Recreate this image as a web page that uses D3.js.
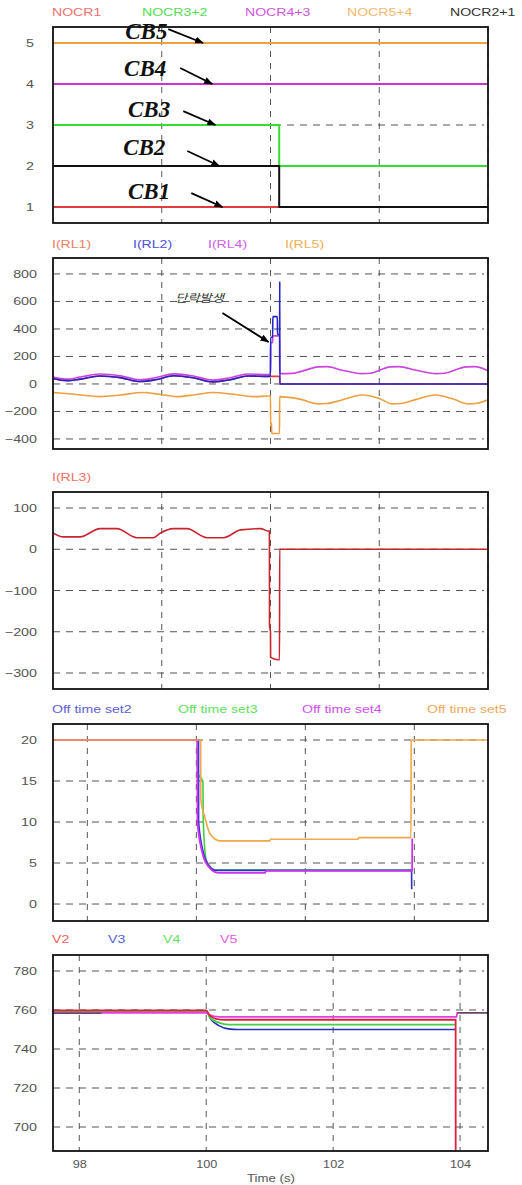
<!DOCTYPE html>
<html><head><meta charset="utf-8">
<script src="https://cdn.jsdelivr.net/npm/d3@7"></script>
<style>body{margin:0;background:#fff}svg{display:block}</style>
</head><body>
<script>
// ---------------- DATA ----------------
// Panel 1 : breaker states (x in panel units 0..4)
const legendP1 = ["NOCR1","NOCR3+2","NOCR4+3","NOCR5+4","NOCR2+1"];
const ticksP1 = [1,2,3,4,5];
const nocr1  = [[0,1],[2.08,1]];
const nocr32 = [[0,3],[2.08,3],[2.08,2],[4,2]];
const nocr43 = [[0,4],[4,4]];
const nocr54 = [[0,5],[4,5]];
const nocr21 = [[0,2],[2.08,2],[2.08,1],[4,1]];
const cbLabels = ["CB5","CB4","CB3","CB2","CB1"];

// Panel 2 : relay currents
const legendP2 = ["I(RL1)","I(RL2)","I(RL4)","I(RL5)"];
const ticksP2 = [-400,-200,0,200,400,600,800];
const rl1 = [[0,40],[0.13,24],[0.25,35],[0.43,58],[0.62,46],[0.8,18],[0.94,30],[1.11,60],[1.29,45],[1.47,15],[1.63,30],[1.79,58],[1.98,55],[2.0,55],[2.084,55],[2.085,0],[4,0]];
const rl2 = [[0,40],[0.13,24],[0.25,35],[0.43,58],[0.62,46],[0.8,18],[0.94,30],[1.11,60],[1.29,45],[1.47,15],[1.63,30],[1.79,58],[1.98,55],[2.0,55],[2.001,340],[2.02,340],[2.021,490],[2.063,490],[2.064,360],[2.084,360],[2.085,745],[2.086,0],[4,0]];
const rl4 = [[0,50],[0.13,35],[0.25,50],[0.43,72],[0.62,60],[0.8,30],[0.94,45],[1.11,73],[1.29,58],[1.47,28],[1.63,45],[1.79,72],[1.98,68],[2.0,68],[2.001,300],[2.02,300],[2.021,350],[2.083,350],[2.084,75],[2.2,77],[2.44,124],[2.52,126],[2.66,100],[2.84,75],[2.92,78],[3.1,124],[3.18,126],[3.34,100],[3.52,75],[3.6,78],[3.8,124],[3.88,126],[4.0,95]];
const rl5 = [[0,-62],[0.2,-75],[0.43,-92],[0.62,-80],[0.83,-62],[0.98,-75],[1.14,-92],[1.31,-78],[1.47,-62],[1.66,-75],[1.84,-92],[1.99,-88],[2.0,-88],[2.001,-300],[2.01,-285],[2.011,-360],[2.083,-360],[2.084,-92],[2.28,-112],[2.44,-145],[2.52,-142],[2.65,-118],[2.84,-80],[3.0,-105],[3.12,-145],[3.2,-142],[3.34,-112],[3.52,-80],[3.68,-110],[3.82,-145],[3.9,-140],[4.0,-115]];
const faultLabel = "단락발생";

// Panel 3 : I(RL3)
const legendP3 = ["I(RL3)"];
const ticksP3 = [-300,-200,-100,0,100];
const rl3 = [[0,39],[0.095,30],[0.249,30],[0.433,50],[0.587,50],[0.771,28],[0.924,28],[0.986,39],[1.109,50],[1.232,50],[1.416,28],[1.57,28],[1.724,47],[1.908,50],[1.984,44],[1.99,44],[1.991,-185],[2.0,-200],[2.001,-262],[2.075,-268],[2.083,-268],[2.084,0],[4,0]];

// Panel 4 : off time settings
const legendP4 = ["Off time set2","Off time set3","Off time set4","Off time set5"];
const ticksP4 = [0,5,10,15,20];
const set2 = [[0.685,20],[2.02,20],[2.021,10],[2.07,6],[2.12,4.6],[2.175,4.1],[3.975,4.1],[3.976,1.8]];
const set3 = [[0.685,20],[2.009,20],[2.01,16],[2.06,15],[2.064,10],[2.09,5.4],[2.124,4.6],[2.17,4.15],[3.975,4.15]];
const set4 = [[0.685,20],[2.009,20],[2.01,10],[2.064,5.8],[2.11,4.6],[2.156,4.0],[2.2,3.8],[2.63,3.8],[2.64,4.05],[3.98,4.05],[3.981,8.0]];
const set5 = [[0.685,20],[2.04,20],[2.041,12.7],[2.078,10.6],[2.124,8.6],[2.216,7.7],[2.675,7.7],[2.68,7.9],[3.483,7.9],[3.49,8.1],[3.97,8.1],[3.971,20],[4.676,20]];

// Panel 5 : voltages vs time (s)
const legendP5 = ["V2","V3","V4","V5"];
const ticksP5 = [700,720,740,760,780];
const timeTicks = [98,100,102,104];
const v2 = [[97.586,759.8],[100.0,759.8],[100.05,757.5],[100.15,755.5],[100.3,755],[103.93,755],[103.931,680]];
const v3 = [[97.586,759.3],[100.0,759.3],[100.08,755],[100.2,752],[100.35,750.3],[100.5,750],[103.93,750]];
const v4 = [[97.586,759.3],[100.0,759.3],[100.06,756],[100.2,753.5],[100.35,752.5],[103.93,752.5]];
const v5 = [[97.586,758.6],[100.0,758.6],[100.05,757.5],[100.2,756.5],[103.95,756.5],[103.951,758.5],[104.44,758.5]];
const v1 = [[97.586,758.3],[98.35,758.3],[98.36,null],[103.95,null],[103.96,758.6],[104.44,758.6]];

// ---------------- DRAWING ----------------
const W = 522, H = 1185, X0 = 53, X1 = 488;
const SANS = "'Liberation Sans', Arial, sans-serif";
const svg = d3.select("body").append("svg").attr("width", W).attr("height", H);
const defs = svg.append("defs");
defs.append("marker").attr("id","arr").attr("viewBox","0 0 10 10").attr("refX",9).attr("refY",5)
  .attr("markerUnits","userSpaceOnUse").attr("markerWidth",9).attr("markerHeight",9).attr("orient","auto")
  .append("path").attr("d","M0,1.2L10,5L0,8.8z").attr("fill","#000");

function stretch(sel, f){
  sel.each(function(){
    const L = this.getComputedTextLength();
    d3.select(this).attr("textLength", L*f).attr("lengthAdjust","spacingAndGlyphs");
  });
}

function drawPanel(cfg){
  const g = svg.append("g");
  const x = d3.scaleLinear().domain(cfg.xDomain).range([X0, X1]);
  const y = d3.scaleLinear().domain(cfg.yDomain).range([cfg.bottom, cfg.top]);
  const cid = "clip" + cfg.id;
  defs.append("clipPath").attr("id", cid).append("rect")
    .attr("x", X0).attr("y", cfg.top).attr("width", X1 - X0).attr("height", cfg.bottom - cfg.top);

  // grid
  const grid = g.append("g").attr("stroke","#555").attr("stroke-width",1).attr("fill","none");
  grid.selectAll(".hg").data(cfg.yTicks).join("line")
    .attr("x1", X0).attr("x2", X1 - 4).attr("y1", d => y(d)).attr("y2", d => y(d))
    .attr("stroke-dasharray","7,6");
  grid.selectAll(".vg").data(cfg.xGrid).join("line")
    .attr("x1", d => x(d)).attr("x2", d => x(d)).attr("y1", cfg.top).attr("y2", cfg.bottom)
    .attr("stroke-dasharray","6,6");

  // y axis labels
  const ya = g.append("g").attr("transform", `translate(${cfg.labelX},0)`)
    .call(d3.axisLeft(y).tickValues(cfg.yTicks).tickFormat(d3.format("d")).tickSize(0).tickPadding(0));
  ya.select(".domain").remove();
  ya.selectAll("text").attr("font-family", SANS).attr("font-size", 11).attr("fill", "#555");
  stretch(ya.selectAll("text"), 1.3);

  // legend
  const lg = g.append("g");
  lg.selectAll("text").data(cfg.legend).join("text")
    .attr("x", (d,i) => cfg.legendX[i]).attr("y", cfg.legendY)
    .attr("font-family", SANS).attr("font-size", 11)
    .attr("fill", (d,i) => cfg.legendColors[i]).text(d => d);
  stretch(lg.selectAll("text"), 1.28);

  // series
  const line = d3.line().defined(d => d[1] != null)
    .x(d => x(d[0])).y(d => y(d[1])).curve(cfg.curve || d3.curveMonotoneX);
  const sg = g.append("g").attr("clip-path", `url(#${cid})`);
  cfg.series.forEach(s => {
    sg.append("path").datum(s.data).attr("d", line).attr("fill","none")
      .attr("stroke", s.color).attr("stroke-width", s.width || 1.6).attr("stroke-linejoin","round");
  });

  // frame
  g.append("rect").attr("x", X0).attr("y", cfg.top).attr("width", X1 - X0).attr("height", cfg.bottom - cfg.top)
    .attr("fill","none").attr("stroke","#111").attr("stroke-width",1.8);
  return {g, x, y};
}

// Panel 1
const p1 = drawPanel({
  id: 1, top: 27, bottom: 223, xDomain: [0, 4], xGrid: [1,2,3,4], yDomain: [0.61, 5.39],
  yTicks: ticksP1, labelX: 34, legend: legendP1, legendX: [52,142,245,347,450], legendY: 16,
  legendColors: ["#f07070","#55dd55","#d055e0","#f5b870","#333"],
  curve: d3.curveLinear,
  series: [
    {data: nocr54, color: "#f0a040", width: 2},
    {data: nocr43, color: "#cc33cc", width: 2},
    {data: nocr32, color: "#33dd33", width: 2},
    {data: nocr1,  color: "#e03c3c", width: 2},
    {data: nocr21, color: "#111", width: 2}
  ]
});
// CB annotations (data units of panel 1)
const cbText = [[0.664,5.1],[0.654,4.195],[0.69,3.195],[0.645,2.268],[0.69,1.195]];
const cbArrow = [[[1.06,5.34],[1.38,5.0]],[[1.17,4.39],[1.465,4.0]],[[1.198,3.34],[1.493,3.0]],[[1.235,2.366],[1.53,2.0]],[[1.272,1.34],[1.558,1.0]]];
p1.g.selectAll(".cb").data(cbLabels).join("text")
  .attr("x", (d,i) => p1.x(cbText[i][0])).attr("y", (d,i) => p1.y(cbText[i][1]))
  .attr("font-family","'Liberation Serif','Times New Roman',serif").attr("font-style","italic")
  .attr("font-weight","bold").attr("font-size",23).attr("fill","#111").text(d => d);
p1.g.selectAll(".cba").data(cbArrow).join("line")
  .attr("x1", d => p1.x(d[0][0])).attr("y1", d => p1.y(d[0][1]))
  .attr("x2", d => p1.x(d[1][0])).attr("y2", d => p1.y(d[1][1]))
  .attr("stroke","#000").attr("stroke-width",1.8).attr("marker-end","url(#arr)");

// Panel 2
const p2 = drawPanel({
  id: 2, top: 258, bottom: 449, xDomain: [0, 4], xGrid: [1,2,3,4], yDomain: [-473, 916],
  yTicks: ticksP2, labelX: 37, legend: legendP2, legendX: [52,133,208,285], legendY: 248,
  legendColors: ["#f08060","#5050d8","#d060e8","#f0b050"],
  series: [
    {data: rl1, color: "#e04040"},
    {data: rl5, color: "#eea040"},
    {data: rl4, color: "#cc44dd"},
    {data: rl2, color: "#2424c8"}
  ]
});
const ft = p2.g.append("text").attr("x", p2.x(1.124)).attr("y", p2.y(596))
  .attr("font-family","'Noto Sans CJK KR', sans-serif").attr("font-style","italic")
  .attr("font-size",11).attr("fill","#333").text(faultLabel);
stretch(ft, 1.2);
p2.g.append("line").attr("x1", p2.x(1.558)).attr("y1", p2.y(516)).attr("x2", p2.x(1.982)).attr("y2", p2.y(305))
  .attr("stroke","#000").attr("stroke-width",1.8).attr("marker-end","url(#arr)");

// Panel 3
drawPanel({
  id: 3, top: 492, bottom: 689, xDomain: [0, 4], xGrid: [1,2,3,4], yDomain: [-338.8, 138.8],
  yTicks: ticksP3, labelX: 37, legend: legendP3, legendX: [52], legendY: 481,
  legendColors: ["#f07060"],
  series: [{data: rl3, color: "#c8242c"}]
});

// Panel 4
drawPanel({
  id: 4, top: 724, bottom: 921, xDomain: [0.685, 4.676], xGrid: [1,2,3,4], yDomain: [-2.07, 21.95],
  yTicks: ticksP4, labelX: 37, legend: legendP4, legendX: [52,178,302,427], legendY: 713,
  legendColors: ["#6060d8","#60e060","#d050f0","#f0a860"],
  series: [
    {data: set3, color: "#40d040"},
    {data: set2, color: "#3030d0"},
    {data: set4, color: "#cc33ee", width: 1.8},
    {data: set5, color: "#f0a848"}
  ]
});

// Panel 5
const p5 = drawPanel({
  id: 5, top: 955, bottom: 1151, xDomain: [97.586, 104.44], xGrid: timeTicks, yDomain: [687.7, 788.2],
  yTicks: ticksP5, labelX: 37, legend: legendP5, legendX: [52,108,163,220], legendY: 943,
  legendColors: ["#f06060","#5060d0","#60e060","#e060e0"],
  series: [
    {data: v3, color: "#2830c0"},
    {data: v4, color: "#40d040", width: 1.8},
    {data: v5, color: "#e040e0", width: 1.8},
    {data: v2, color: "#e0203c", width: 1.8},
    {data: v1, color: "#555"}
  ]
});
const xa = p5.g.append("g").attr("transform", "translate(0,1151)")
  .call(d3.axisBottom(p5.x).tickValues(timeTicks).tickFormat(d3.format("d")).tickSize(0).tickPadding(9));
xa.select(".domain").remove();
xa.selectAll("text").attr("font-family", SANS).attr("font-size", 11).attr("fill", "#555");
stretch(xa.selectAll("text"), 1.15);
const tl = p5.g.append("text").attr("x", 271).attr("y", 1182).attr("text-anchor","middle")
  .attr("font-family", SANS).attr("font-size", 11).attr("fill", "#555").text("Time (s)");
stretch(tl, 1.2);
</script>
</body></html>
